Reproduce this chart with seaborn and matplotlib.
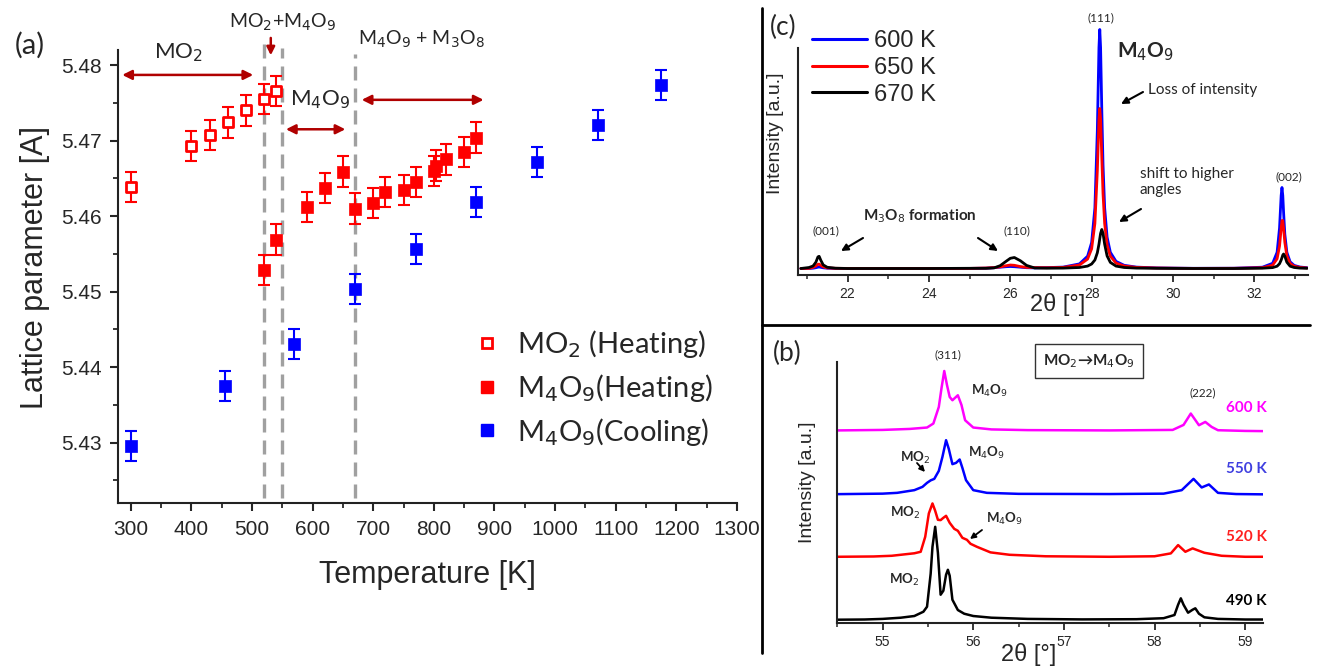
import matplotlib
matplotlib.use("Agg")
import matplotlib.pyplot as plt
import seaborn as sns
import numpy as np
from matplotlib.lines import Line2D
from matplotlib.ticker import MultipleLocator

# ---------------- data: panel (a) lattice parameter ----------------
mo2_heat_T = [300, 400, 430, 460, 490, 520, 540]
mo2_heat_a = [5.4639, 5.4693, 5.4707, 5.4724, 5.4740, 5.4755, 5.4766]
m4o9_heat_T = [520, 540, 590, 620, 650, 670, 700, 720, 750, 770, 800, 803, 820, 850, 870]
m4o9_heat_a = [5.4529, 5.4569, 5.4612, 5.4637, 5.4659, 5.4610, 5.4617, 5.4632,
               5.4635, 5.4645, 5.4660, 5.4667, 5.4675, 5.4685, 5.4704]
m4o9_cool_T = [300, 455, 570, 670, 770, 870, 970, 1070, 1175]
m4o9_cool_a = [5.4296, 5.4375, 5.4431, 5.4503, 5.4556, 5.4619, 5.4672, 5.4721, 5.4774]
lattice_err = 0.002
phase_T = [520, 550, 670]
legend_a = ["MO$_2$ (Heating)", "M$_4$O$_9$(Heating)", "M$_4$O$_9$(Cooling)"]

# ---------------- data: panel (c) XRD 21-33 deg ----------------
tt_c = [20.85, 21.05, 21.15, 21.22, 21.27, 21.30, 21.34, 21.40, 21.50, 21.70, 22.0, 23.0, 24.0,
        25.0, 25.40, 25.60, 25.75, 25.90, 26.00, 26.10, 26.25, 26.40, 26.60, 26.90, 27.30,
        27.70, 27.90, 28.00, 28.08, 28.14, 28.18, 28.20, 28.22, 28.25, 28.28, 28.32, 28.38,
        28.46, 28.60, 28.80, 29.10, 29.60, 30.50, 31.50, 32.20, 32.45, 32.56, 32.62, 32.66,
        32.68, 32.70, 32.72, 32.75, 32.80, 32.88, 32.98, 33.12, 33.30]
int_600 = [6.0, 6.0, 6.3, 6.8, 7.3, 7.5, 7.2, 6.7, 6.3, 6.1, 6.0, 6.0, 6.0,
           6.1, 6.3, 6.8, 7.3, 7.8, 8.0, 7.8, 7.3, 6.8, 6.6, 6.9, 7.4,
           10.6, 18.3, 32.0, 66.7, 143.7, 227.0, 245.0, 227.0, 164.0, 109.6, 66.7, 37.4,
           22.2, 13.1, 9.2, 7.4, 6.6, 6.2, 6.3, 7.3, 11.2, 22.2, 46.5, 78.9,
           87.0, 78.9, 62.0, 40.3, 22.2, 12.7, 9.1, 7.5, 6.8]
int_650 = [6.0, 6.1, 7.1, 8.5, 10.2, 10.4, 9.2, 7.6, 6.6, 6.2, 6.1, 6.0, 6.0,
           6.1, 6.5, 6.9, 7.6, 8.8, 9.5, 9.2, 7.9, 7.1, 6.9, 6.8, 7.1,
           9.5, 15.4, 25.7, 51.0, 103.6, 155.4, 166.0, 155.4, 116.8, 80.8, 51.0, 29.7,
           18.3, 11.4, 8.5, 7.1, 6.5, 6.1, 6.2, 6.8, 9.3, 15.7, 28.4, 46.0,
           54.0, 54.0, 46.0, 32.2, 18.6, 11.1, 8.3, 7.1, 6.5]
int_670 = [6.0, 7.0, 8.5, 12.3, 17.6, 18.2, 14.3, 9.6, 7.2, 6.3, 6.0, 6.0, 6.0,
           6.2, 6.2, 6.6, 8.8, 13.3, 16.2, 17.0, 13.7, 9.1, 6.5, 6.3, 6.4,
           7.0, 8.4, 10.5, 14.5, 21.7, 30.3, 35.8, 41.1, 45.0, 41.1, 30.3, 18.6,
           12.1, 8.4, 7.0, 6.4, 6.2, 6.0, 6.0, 6.3, 6.9, 8.3, 10.8, 14.4,
           16.9, 19.4, 20.5, 18.3, 12.3, 8.3, 7.0, 6.4, 6.2]
labels_c = ["600 K", "650 K", "670 K"]

# ---------------- data: panel (b) XRD 54.5-59.2 deg (stacked) ----------------
tt_490 = [54.5, 54.8, 55.0, 55.2, 55.35, 55.45, 55.49, 55.53, 55.55, 55.58, 55.61, 55.64, 55.67,
          55.70, 55.72, 55.74, 55.77, 55.83, 55.9, 56.0, 56.2, 56.6, 57.2, 57.8, 58.1, 58.22,
          58.26, 58.29, 58.32, 58.37, 58.42, 58.45, 58.49, 58.55, 58.7, 59.0, 59.2]
int_490 = [3.0, 3.2, 3.8, 5.0, 6.7, 11.0, 16.0, 49.0, 76.0, 96.0, 70.0, 28.0, 32.0,
           48.0, 53.0, 47.0, 23.0, 12.7, 9.0, 6.7, 5.0, 3.8, 3.3, 3.5, 4.5, 7.7,
           18.0, 24.4, 18.0, 10.0, 13.0, 14.4, 9.0, 5.4, 3.8, 3.2, 3.2]
tt_520 = [54.5, 54.9, 55.1, 55.25, 55.35, 55.42, 55.47, 55.51, 55.55, 55.58, 55.61, 55.64, 55.67,
          55.70, 55.74, 55.79, 55.83, 55.88, 55.93, 55.97, 56.04, 56.19, 56.4, 56.8, 57.5,
          58.0, 58.18, 58.26, 58.34, 58.42, 58.55, 58.74, 59.0, 59.2]
int_520 = [66.0, 66.3, 67.0, 68.5, 69.5, 71.0, 86.0, 109.4, 119.4, 112.0, 103.0, 102.7, 105.0,
           107.0, 100.0, 94.0, 92.0, 85.0, 83.0, 79.0, 76.0, 70.4, 68.0, 66.5, 66.0,
           66.5, 69.4, 77.7, 71.0, 74.4, 70.0, 67.0, 66.0, 66.0]
tt_550 = [54.5, 55.0, 55.16, 55.35, 55.44, 55.49, 55.53, 55.57, 55.62, 55.66, 55.70, 55.73, 55.77,
          55.81, 55.85, 55.88, 55.92, 56.0, 56.15, 56.5, 57.5, 58.1, 58.3, 58.43, 58.52,
          58.60, 58.70, 58.9, 59.2]
int_550 = [128.7, 129.2, 130.0, 132.7, 136.0, 140.0, 142.5, 144.0, 152.0, 166.0, 182.7, 174.0, 158.7,
           160.0, 163.4, 155.0, 142.7, 132.7, 130.0, 129.0, 128.8, 129.2, 132.7, 144.0, 135.4,
           138.4, 130.0, 128.8, 128.5]
tt_600 = [54.5, 55.0, 55.3, 55.49, 55.56, 55.62, 55.65, 55.68, 55.71, 55.74, 55.77, 55.83, 55.87,
          55.91, 56.0, 56.2, 56.6, 57.5, 58.2, 58.32, 58.40, 58.49, 58.56, 58.63, 58.70, 59.0, 59.2]
int_600b = [192.5, 193.0, 194.0, 195.4, 199.4, 216.0, 235.0, 252.0, 238.0, 226.0, 222.7, 227.7, 218.0,
            202.7, 195.4, 193.5, 192.8, 192.5, 193.0, 198.0, 209.4, 197.7, 201.0, 196.0, 192.7, 192.0, 191.8]
labels_b = ["600 K", "550 K", "520 K", "490 K"]

# ---------------- figure ----------------
W, H = 1319, 668
sns.set_theme(style="ticks")
plt.rcParams["font.family"] = ["Liberation Sans", "DejaVu Sans"]
plt.rcParams["axes.linewidth"] = 1.5
plt.rcParams["axes.edgecolor"] = "#222222"

fig = plt.figure(figsize=(W / 100, H / 100), dpi=100)
fig.patch.set_facecolor("white")


def P(x, y):
    return (x / W, 1 - y / H)


def axes_px(l, t, r, b):
    return fig.add_axes([l / W, 1 - b / H, (r - l) / W, (b - t) / H])


arial = ["Liberation Sans", "DejaVu Sans"]
cal = ["Lato", "DejaVu Sans"]

# ================= panel (a) =================
axA = axes_px(118, 50, 737, 503)
axA.set_facecolor("white")
RED, BLUE, DRED = "#ff0000", "#0000ff", "#b00000"

axA.errorbar(mo2_heat_T, mo2_heat_a, yerr=lattice_err, fmt="none", ecolor=RED,
             elinewidth=1.5, capsize=4, capthick=1.5, zorder=3)
axA.errorbar(m4o9_heat_T, m4o9_heat_a, yerr=lattice_err, fmt="none", ecolor=RED,
             elinewidth=1.5, capsize=4, capthick=1.5, zorder=3)
axA.errorbar(m4o9_cool_T, m4o9_cool_a, yerr=lattice_err, fmt="none", ecolor=BLUE,
             elinewidth=1.5, capsize=4, capthick=1.5, zorder=3)
sns.scatterplot(x=mo2_heat_T, y=mo2_heat_a, marker="s", s=60, facecolor="white",
                edgecolor=RED, linewidth=2.0, ax=axA, zorder=4)
sns.scatterplot(x=m4o9_heat_T, y=m4o9_heat_a, marker="s", s=70, color=RED,
                edgecolor=RED, linewidth=0.5, ax=axA, zorder=4)
sns.scatterplot(x=m4o9_cool_T, y=m4o9_cool_a, marker="s", s=70, color=BLUE,
                edgecolor=BLUE, linewidth=0.5, ax=axA, zorder=4)

tops = [5.4828, 5.4823, 5.4815]
for T, top in zip(phase_T, tops):
    axA.plot([T, T], [5.4227, top], color="#a0a0a0", lw=2.4,
             linestyle=(0, (4.2, 2.4)), clip_on=False, zorder=2)

axA.set_xlim(279, 1300)
axA.set_ylim(5.422, 5.482)
axA.xaxis.set_major_locator(MultipleLocator(100))
axA.xaxis.set_minor_locator(MultipleLocator(50))
axA.yaxis.set_major_locator(MultipleLocator(0.01))
axA.yaxis.set_minor_locator(MultipleLocator(0.005))
axA.yaxis.set_major_formatter(matplotlib.ticker.FormatStrFormatter("%.2f"))
sns.despine(ax=axA)
axA.tick_params(which="major", direction="out", length=6, width=1.5, labelsize=15, pad=6)
axA.tick_params(which="minor", direction="out", length=3.5, width=1.3)
for lab in axA.get_xticklabels() + axA.get_yticklabels():
    lab.set_family(arial)
axA.set_xlabel("Temperature [K]", fontsize=22, family=arial)
axA.xaxis.set_label_coords(0.5, -0.125)
axA.set_ylabel("Lattice parameter [A]", fontsize=22, family=arial)
axA.yaxis.set_label_coords(-0.11, 0.52)

# phase annotations
arr = dict(arrowstyle="<|-|>", color=DRED, lw=1.8, mutation_scale=14, shrinkA=0, shrinkB=0)
axA.annotate("", xy=(286, 5.4787), xytext=(502, 5.4787), arrowprops=arr, annotation_clip=False)
axA.annotate("", xy=(556, 5.4715), xytext=(654, 5.4715), arrowprops=arr, annotation_clip=False)
axA.annotate("", xy=(681, 5.4754), xytext=(882, 5.4754), arrowprops=arr, annotation_clip=False)
axA.annotate("", xy=(531, 5.4813), xytext=(531, 5.4836),
             arrowprops=dict(arrowstyle="-|>", color=DRED, lw=1.8, mutation_scale=12,
                             shrinkA=0, shrinkB=0), annotation_clip=False)
axA.text(378, 5.4816, "MO$_2$", fontsize=16, ha="center", va="center", family=cal)
axA.text(612, 5.4754, "M$_4$O$_9$", fontsize=16, ha="center", va="center", family=cal)
axA.text(550, 5.4856, "MO$_2$+M$_4$O$_9$", fontsize=14, ha="center", va="center", family=cal)
axA.text(780, 5.4834, "M$_4$O$_9$ + M$_3$O$_8$", fontsize=14, ha="center", va="center", family=cal)
fig.text(*P(30, 45), "(a)", fontsize=21, ha="center", va="center", family=cal)

handles = [
    Line2D([], [], marker="s", ls="none", markersize=7.5, markerfacecolor="white",
           markeredgecolor=RED, markeredgewidth=2),
    Line2D([], [], marker="s", ls="none", markersize=8.5, color=RED),
    Line2D([], [], marker="s", ls="none", markersize=8.5, color=BLUE),
]
axA.legend(handles, legend_a, loc="center left", bbox_to_anchor=P(446, 388),
           bbox_transform=fig.transFigure, frameon=False,
           handlelength=1.0, handletextpad=0.55, labelspacing=0.4,
           prop={"family": cal, "size": 21})

# ================= panel (c) =================
axC = axes_px(798, 20, 1308, 274.5)
axC.set_facecolor("none")
sns.lineplot(x=tt_c, y=int_600, color="#0000ff", lw=2.0, ax=axC, sort=False, estimator=None)
sns.lineplot(x=tt_c, y=int_650, color="#ff0000", lw=2.0, ax=axC, sort=False, estimator=None)
sns.lineplot(x=tt_c, y=int_670, color="#000000", lw=2.0, ax=axC, sort=False, estimator=None)
axC.set_xlim(20.78, 33.32)
axC.set_ylim(0, 254.5)
axC.set_yticks([])
axC.spines["top"].set_visible(False)
axC.spines["right"].set_visible(False)
axC.spines["left"].set_bounds(0, 226.5)
axC.xaxis.set_major_locator(MultipleLocator(2))
axC.xaxis.set_minor_locator(MultipleLocator(1))
axC.tick_params(which="major", direction="out", length=5, width=1.3, labelsize=10, pad=4)
axC.tick_params(which="minor", direction="out", length=3, width=1.1)
axC.set_xlabel("")
axC.set_ylabel("")
for lab in axC.get_xticklabels():
    lab.set_family(arial)
fig.text(*P(1058, 305), "2θ [°]", fontsize=17, ha="center", va="center", family=arial)
fig.text(*P(776, 133), "Intensity [a.u.]", fontsize=14, rotation=90, ha="center", va="center",
         family=arial)
fig.text(*P(783, 27), "(c)", fontsize=19, ha="center", va="center", family=cal)
hC = [Line2D([], [], color=c, lw=2.2) for c in ["#0000ff", "#ff0000", "#000000"]]
axC.legend(hC, labels_c, loc="center left", bbox_to_anchor=P(791, 68),
           bbox_transform=fig.transFigure, frameon=False, handlelength=2.3,
           handletextpad=0.3, labelspacing=0.2, prop={"family": arial, "size": 17})
fig.text(*P(1146, 52), "M$_4$O$_9$", fontsize=15, fontweight="bold", ha="center", va="center",
         family=cal)
fig.text(*P(1101, 18), "(111)", fontsize=8.5, ha="center", va="center", family=cal)
fig.text(*P(1289, 177), "(002)", fontsize=8.5, ha="center", va="center", family=cal)
fig.text(*P(826, 231), "(001)", fontsize=8.5, ha="center", va="center", family=cal)
fig.text(*P(1017, 231), "(110)", fontsize=8.5, ha="center", va="center", family=cal)
fig.text(*P(920, 216), "M$_3$O$_8$ formation", fontsize=11, fontweight="bold", ha="center",
         va="center", family=cal)
fig.text(*P(1148, 90), "Loss of intensity", fontsize=11, ha="left", va="center", family=cal)
fig.text(*P(1140, 182), "shift to higher\nangles", fontsize=11, ha="left", va="center",
         family=cal, linespacing=1.1)
ap = dict(arrowstyle="-|>", color="black", lw=1.5, mutation_scale=10, shrinkA=0, shrinkB=0)
for (x0, y0, x1, y1) in [(1143, 92, 1121, 104), (1141, 209, 1119, 222),
                         (863, 238, 841, 251), (978, 238, 998, 251)]:
    fig.add_artist(matplotlib.patches.FancyArrowPatch(P(x0, y0), P(x1, y1),
                   transform=fig.transFigure, **ap))

# ================= panel (b) =================
axB = axes_px(837.3, 362, 1263.3, 622.7)
axB.set_facecolor("none")
colors_b = ["#ff00ff", "#0000ff", "#ff0000", "#000000"]
sns.lineplot(x=tt_600, y=int_600b, color=colors_b[0], lw=1.8, ax=axB, sort=False, estimator=None)
sns.lineplot(x=tt_550, y=int_550, color=colors_b[1], lw=1.8, ax=axB, sort=False, estimator=None)
sns.lineplot(x=tt_520, y=int_520, color=colors_b[2], lw=1.8, ax=axB, sort=False, estimator=None)
sns.lineplot(x=tt_490, y=int_490, color=colors_b[3], lw=1.8, ax=axB, sort=False, estimator=None)
axB.set_xlim(54.5, 59.2)
axB.set_ylim(0, 261)
axB.set_yticks([])
axB.spines["top"].set_visible(False)
axB.spines["right"].set_visible(False)
axB.xaxis.set_major_locator(MultipleLocator(1))
axB.xaxis.set_minor_locator(MultipleLocator(0.5))
axB.tick_params(which="major", direction="out", length=5, width=1.3, labelsize=10, pad=4)
axB.tick_params(which="minor", direction="out", length=3, width=1.1)
axB.set_xlabel("")
axB.set_ylabel("")
for lab in axB.get_xticklabels():
    lab.set_family(arial)
fig.text(*P(1029, 655), "2θ [°]", fontsize=17, ha="center", va="center", family=arial)
fig.text(*P(807, 482), "Intensity [a.u.]", fontsize=14, rotation=90, ha="center", va="center",
         family=arial)
fig.text(*P(787, 353), "(b)", fontsize=19, ha="center", va="center", family=cal)
fig.text(*P(1089, 361), "MO$_2$→M$_4$O$_9$", fontsize=11, fontweight="bold", ha="center",
         va="center", family=cal,
         bbox=dict(boxstyle="square,pad=0.55", fc="white", ec="#333333", lw=1.0))
fig.text(*P(948, 355), "(311)", fontsize=8.5, ha="center", va="center", family=cal)
fig.text(*P(1203, 393), "(222)", fontsize=8.5, ha="center", va="center", family=cal)
label_y = [408, 469, 537, 601]
label_col = ["#ff00ff", "#4040e0", "#ff2020", "#000000"]
for lab, yy, cc in zip(labels_b, label_y, label_col):
    fig.text(*P(1267, yy), lab, fontsize=11, fontweight="bold", color=cc, ha="right",
             va="center", family=cal)
for (x, y, s) in [(989, 391, "M$_4$O$_9$"), (986, 453, "M$_4$O$_9$"), (915, 458, "MO$_2$"),
                  (905, 513, "MO$_2$"), (1004, 519, "M$_4$O$_9$"), (904, 580, "MO$_2$")]:
    fig.text(*P(x, y), s, fontsize=9.5, fontweight="bold", ha="center", va="center", family=cal)
for (x0, y0, x1, y1) in [(917, 463, 925, 472), (982, 530, 970, 539)]:
    fig.add_artist(matplotlib.patches.FancyArrowPatch(P(x0, y0), P(x1, y1),
                   transform=fig.transFigure, arrowstyle="-|>", color="black", lw=1.3,
                   mutation_scale=8, shrinkA=0, shrinkB=0))

# separators
fig.add_artist(Line2D([762 / W, 762 / W], [1 - 8 / H, 1 - 653 / H], transform=fig.transFigure,
                      color="black", lw=2))
fig.add_artist(Line2D([762 / W, 1310 / W], [1 - 325 / H, 1 - 325 / H], transform=fig.transFigure,
                      color="black", lw=2))

fig.savefig("out.png", dpi=100, facecolor="white")
